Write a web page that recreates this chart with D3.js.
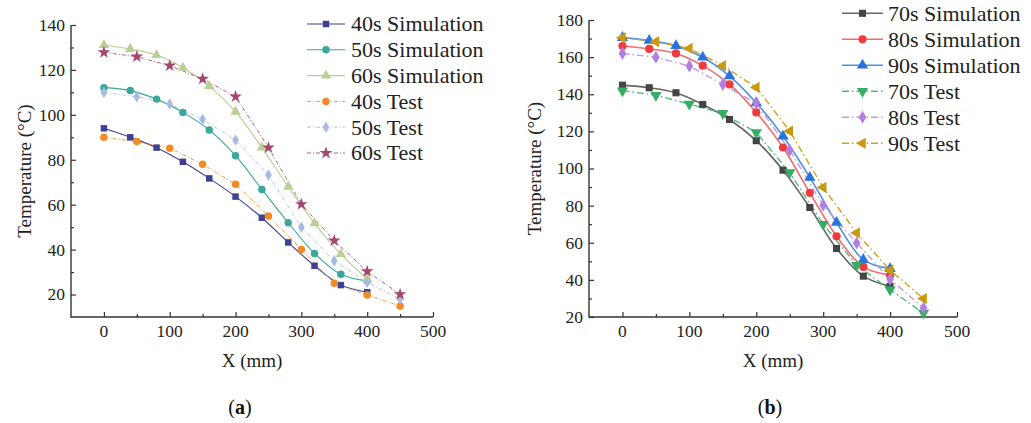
<!DOCTYPE html>
<html><head><meta charset="utf-8">
<script src="https://cdn.jsdelivr.net/npm/d3@7"></script>
<style>
body{margin:0;background:#fff;}
svg{display:block;}
svg text{font-family:"Liberation Serif","Times New Roman",serif;}
</style></head>
<body>
<svg id="c" width="1031" height="423"></svg>
<script>
// ---- data ----
const xSimA = [0,40,80,120,160,200,240,280,320,360,400];
const xTestA = [0,50,100,150,200,250,300,350,400,450];
const sim40 = [94,90,85.4,79.1,71.7,63.6,54.2,43.2,32.8,24.2,21];
const sim50 = [112.1,110.8,107,101.1,93.3,81.8,66.8,52,38.3,29,26];
const sim60 = [131.1,129.3,126.6,121,112.8,101.4,85.4,68,51.7,38,27];
const test40 = [90,88.1,85.1,78,69.1,55,40.1,25,19.8,14.9];
const test50 = [109.9,108.1,104.8,98,88.8,73.2,50,35,25.5,18];
const test60 = [127.8,125.9,121.9,116,108.1,85.4,60.2,44,30.3,20.1];

const xSimB = [0,40,80,120,160,200,240,280,320,360,400];
const xTestB = [0,50,100,150,200,250,300,350,400,450];
const sim70 = [144.9,143.5,140.8,134.5,126.4,115,99.1,79,56.9,42,36.5];
const sim80 = [166,164.4,162,155.4,145.3,130.2,111.3,86.9,63.5,47,42.5];
const sim90 = [170.5,168.9,166.1,159.9,149.8,135.4,117.4,95.2,70.9,50.9,46];
const test70 = [141.9,139.5,134.7,129.7,119.4,97.8,70,47.9,34.7,22.1];
const test80 = [162,159.9,155.2,145.3,135.1,109.9,80.2,59.9,40.3,24.8];
const test90 = [170.5,168.3,164.7,155.4,143.7,120.1,89.8,65.3,45.2,29.9];

const namesA = ["40s Simulation","50s Simulation","60s Simulation","40s Test","50s Test","60s Test"];
const namesB = ["70s Simulation","80s Simulation","90s Simulation","70s Test","80s Test","90s Test"];
const xTicks = [0,100,200,300,400,500];
const yTicksA = [20,40,60,80,100,120,140];
const yTicksB = [20,40,60,80,100,120,140,160,180];

const svg = d3.select("#c");
const FONT = "Liberation Serif, Times New Roman, serif";

function symbolFor(kind){
  return {square:d3.symbolSquare,circle:d3.symbolCircle,triUp:d3.symbolTriangle,
          triDown:d3.symbolTriangle,triLeft:d3.symbolTriangle,diamond:d3.symbolDiamond,star:d3.symbolStar}[kind];
}
function rot(kind){ return kind==="triDown"?180:(kind==="triLeft"?-90:0); }
function sizeFor(kind){ return {square:42,circle:44,triUp:46,triDown:46,triLeft:46,diamond:38,star:50}[kind]; }

function drawMarker(g,x,y,s){
  g.append("path")
   .attr("d", d3.symbol().type(symbolFor(s.marker)).size(sizeFor(s.marker)*(s.mscale||1))())
   .attr("transform",`translate(${x},${y}) rotate(${rot(s.marker)})`)
   .attr("fill",s.mcolor);
}

function panel(cfg){
  const g = svg.append("g").attr("font-family",FONT);
  const x = d3.scaleLinear().domain([-50,500]).range(cfg.xr);
  const y = d3.scaleLinear().domain(cfg.yd).range(cfg.yr);
  const axCol = "#333";
  g.append("line").attr("x1",cfg.xr[0]).attr("x2",cfg.xr[1]).attr("y1",cfg.yr[0]).attr("y2",cfg.yr[0])
    .attr("stroke",axCol).attr("stroke-width",1.4);
  g.append("line").attr("x1",cfg.xr[0]).attr("x2",cfg.xr[0]).attr("y1",cfg.yr[0]+0.7).attr("y2",cfg.yr[1])
    .attr("stroke",axCol).attr("stroke-width",1.4);
  const xa = g.append("g").attr("transform",`translate(0,${cfg.yr[0]})`)
    .call(d3.axisTop(x).tickValues(xTicks).tickSize(5).tickFormat(""));
  xa.select(".domain").remove();
  xa.selectAll("line").attr("stroke",axCol).attr("stroke-width",1.2);
  const xm = g.append("g").attr("transform",`translate(0,${cfg.yr[0]})`)
    .call(d3.axisTop(x).tickValues([50,150,250,350,450]).tickSize(3).tickFormat(""));
  xm.select(".domain").remove(); xm.selectAll("line").attr("stroke",axCol).attr("stroke-width",1.2);
  g.selectAll(".xl").data(xTicks).enter().append("text")
    .attr("x",d=>x(d)).attr("y",cfg.yr[0]+20).attr("text-anchor","middle")
    .attr("font-size",17.5).attr("fill","#222").text(d=>d);
  const ya = g.append("g").attr("transform",`translate(${cfg.xr[0]},0)`)
    .call(d3.axisRight(y).tickValues(cfg.yticks).tickSize(5).tickFormat(""));
  ya.select(".domain").remove(); ya.selectAll("line").attr("stroke",axCol).attr("stroke-width",1.2);
  const ym = g.append("g").attr("transform",`translate(${cfg.xr[0]},0)`)
    .call(d3.axisRight(y).tickValues(cfg.yminor).tickSize(3).tickFormat(""));
  ym.select(".domain").remove(); ym.selectAll("line").attr("stroke",axCol).attr("stroke-width",1.2);
  g.selectAll(".yl").data(cfg.yticks).enter().append("text")
    .attr("x",cfg.xr[0]-6).attr("y",d=>y(d)).attr("dy","0.34em").attr("text-anchor","end")
    .attr("font-size",17.5).attr("fill","#222").text(d=>d);
  g.append("text").attr("x",(cfg.xr[0]+cfg.xr[1])/2).attr("y",367).attr("text-anchor","middle")
    .attr("font-size",19).attr("fill","#222").text("X (mm)");
  g.append("text").attr("transform",`translate(${cfg.ytx},${(cfg.yr[0]+cfg.yr[1])/2}) rotate(-90)`)
    .attr("text-anchor","middle").attr("dy","0.35em").attr("font-size",19).attr("fill","#222")
    .text("Temperature (°C)");
  cfg.series.forEach(s=>{
    const pts = s.xs.map((xv,i)=>[x(xv),y(s.ys[i])]);
    const line = d3.line().curve(s.sim?d3.curveCatmullRom.alpha(0.5):d3.curveLinear);
    g.append("path").attr("d",line(pts)).attr("fill","none").attr("stroke",s.lcolor)
      .attr("stroke-width",s.lw).attr("stroke-dasharray",s.dash||null);
  });
  cfg.series.forEach(s=>{
    s.xs.forEach((xv,i)=>drawMarker(g,x(xv),y(s.ys[i]),s));
  });
  cfg.series.forEach((s,i)=>{
    const ly = cfg.leg.y0 + i*cfg.leg.dy;
    g.append("line").attr("x1",cfg.leg.x0).attr("x2",cfg.leg.x1).attr("y1",ly).attr("y2",ly)
      .attr("stroke",s.lcolor).attr("stroke-width",s.lw).attr("stroke-dasharray",s.dash||null);
    drawMarker(g,(cfg.leg.x0+cfg.leg.x1)/2,ly,s);
    g.append("text").attr("x",cfg.leg.tx).attr("y",ly).attr("dy","0.34em")
      .attr("font-size",22).attr("fill","#222").text(cfg.names[i]);
  });
  const t = svg.append("text").attr("x",cfg.sub[0]).attr("y",cfg.sub[1]).attr("text-anchor","middle")
    .attr("font-family",FONT).attr("font-size",20).attr("fill","#111");
  t.append("tspan").text("(");
  t.append("tspan").attr("font-weight","bold").text(cfg.subl);
  t.append("tspan").text(")");
}

const dashA = "4,2,1,2";
panel({
  xr:[71,433], yd:[10,140], yr:[317,25], yticks:yTicksA, yminor:[30,50,70,90,110,130], ytx:24,
  names:namesA, leg:{x0:307,x1:345,tx:351,y0:24,dy:25.8}, sub:[240,414], subl:"a",
  series:[
    {xs:xSimA, ys:sim40, sim:true, lcolor:"#3d4190", mcolor:"#3d4190", lw:1.1, marker:"square"},
    {xs:xSimA, ys:sim50, sim:true, lcolor:"#3aa89a", mcolor:"#3aa89a", lw:1.1, marker:"circle"},
    {xs:xSimA, ys:sim60, sim:true, lcolor:"#b9cf95", mcolor:"#b9cf95", lw:1.1, marker:"triUp"},
    {xs:xTestA, ys:test40, lcolor:"#f0912f", mcolor:"#f28a25", lw:0.9, dash:dashA, marker:"circle"},
    {xs:xTestA, ys:test50, lcolor:"#a9bde2", mcolor:"#a7bbe2", lw:0.9, dash:dashA, marker:"diamond"},
    {xs:xTestA, ys:test60, lcolor:"#a4527a", mcolor:"#a4476f", lw:0.9, dash:dashA, marker:"star"}
  ]
});

const dashB = "7,3,1.5,3";
panel({
  xr:[589,957], yd:[20,180], yr:[317,20], yticks:yTicksB, yminor:[30,50,70,90,110,130,150,170], ytx:534,
  names:namesB, leg:{x0:842,x1:883,tx:888,y0:13.3,dy:26}, sub:[770,414], subl:"b",
  series:[
    {xs:xSimB, ys:sim70, sim:true, lcolor:"#666666", mcolor:"#444444", lw:1.6, marker:"square", mscale:1.2},
    {xs:xSimB, ys:sim80, sim:true, lcolor:"#f26b6e", mcolor:"#ef3b40", lw:1.6, marker:"circle", mscale:1.2},
    {xs:xSimB, ys:sim90, sim:true, lcolor:"#4e8fe6", mcolor:"#2a72dc", lw:1.6, marker:"triUp", mscale:1.2},
    {xs:xTestB, ys:test70, lcolor:"#4dbd7a", mcolor:"#35ad66", lw:1.4, dash:dashB, marker:"triDown", mscale:1.2},
    {xs:xTestB, ys:test80, lcolor:"#c19ae8", mcolor:"#b47ee0", lw:1.4, dash:dashB, marker:"diamond", mscale:1.3},
    {xs:xTestB, ys:test90, lcolor:"#cfa21c", mcolor:"#c99a10", lw:1.4, dash:dashB, marker:"triLeft", mscale:1.2}
  ]
});
</script>
</body></html>
